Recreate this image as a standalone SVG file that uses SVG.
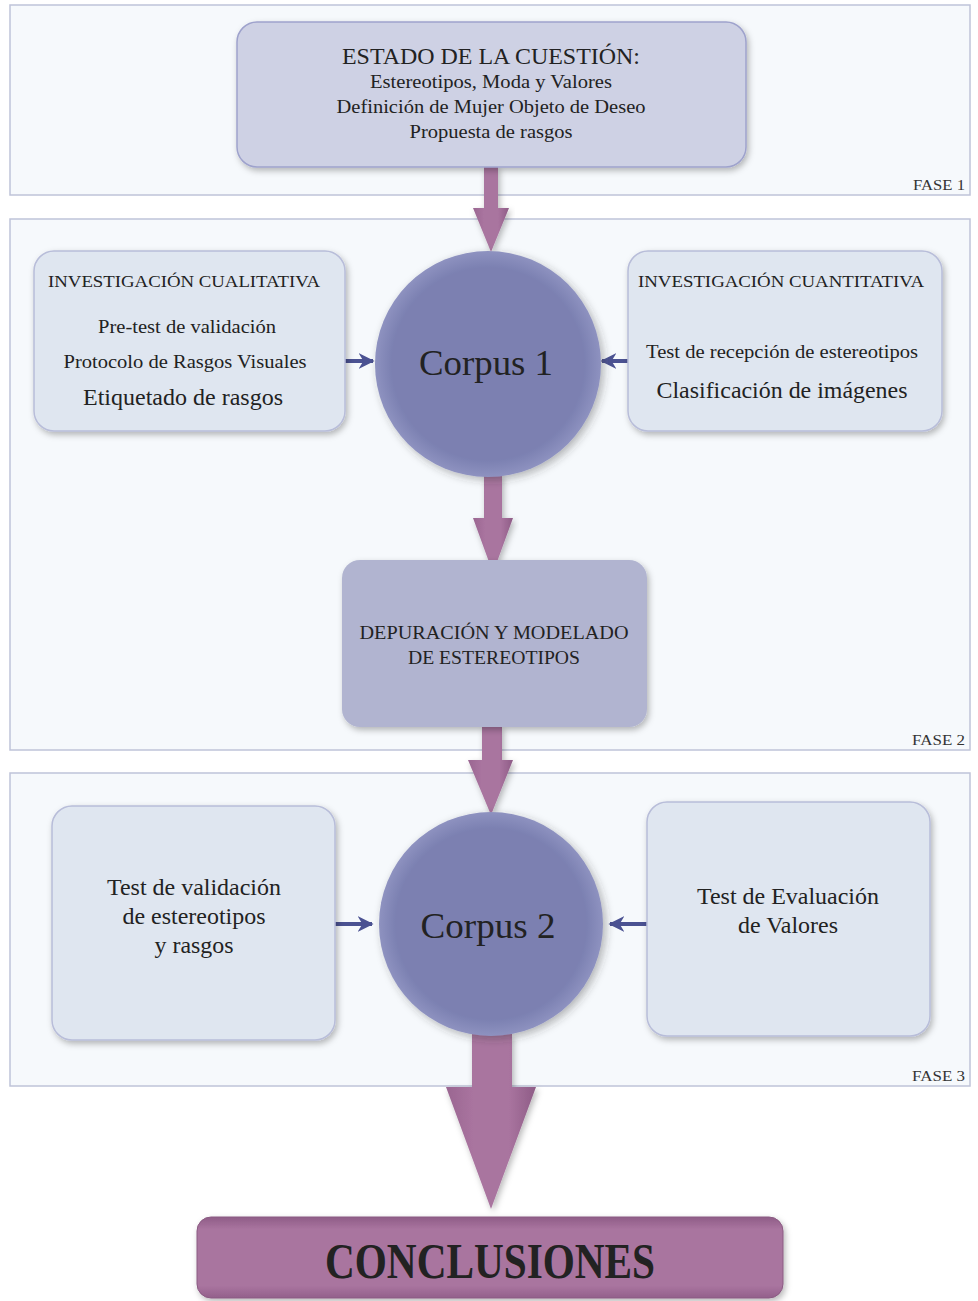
<svg xmlns="http://www.w3.org/2000/svg" width="978" height="1301" viewBox="0 0 978 1301">
<defs>
<filter id="sh" x="-10%" y="-10%" width="125%" height="130%">
<feDropShadow dx="2" dy="3" stdDeviation="3" flood-color="#000" flood-opacity="0.28"/>
</filter>
<filter id="shc" x="-15%" y="-15%" width="135%" height="135%">
<feDropShadow dx="3" dy="3" stdDeviation="4" flood-color="#333" flood-opacity="0.35"/>
</filter>
<linearGradient id="mauve" x1="0" y1="0" x2="1" y2="0">
<stop offset="0" stop-color="#9a6691"/>
<stop offset="0.3" stop-color="#a9749f"/>
<stop offset="0.7" stop-color="#a9749f"/>
<stop offset="1" stop-color="#8e5c86"/>
</linearGradient>
<linearGradient id="concl" x1="0" y1="0" x2="0" y2="1">
<stop offset="0" stop-color="#8f5d87"/>
<stop offset="0.15" stop-color="#a9749f"/>
<stop offset="0.85" stop-color="#a9749f"/>
<stop offset="1" stop-color="#93608b"/>
</linearGradient>
<radialGradient id="circ" cx="0.5" cy="0.5" r="0.5">
<stop offset="0.85" stop-color="#7b80b1"/>
<stop offset="1" stop-color="#8e92c0"/>
</radialGradient>
<marker id="ah" viewBox="0 0 10 10" refX="9" refY="5" markerWidth="4" markerHeight="4" orient="auto">
<path d="M0,0 L10,5 L0,10 L3,5 z" fill="#4b5292"/>
</marker>
</defs>
<style>
.panel{fill:#f6f9fc;stroke:#bfc3d9;stroke-width:1.5}
.lbox{fill:#dfe6f0;stroke:#b8bdd9;stroke-width:1.5}
.t{font-family:"Liberation Serif","Times New Roman",serif;fill:#222;text-anchor:middle}
.fase{font-family:"Liberation Serif","Times New Roman",serif;fill:#333;font-size:15px;text-anchor:end}
.small{stroke:#4b5292;stroke-width:4;fill:none;marker-end:url(#ah)}
.big{fill:url(#mauve);filter:url(#sh)}
</style>
<rect width="978" height="1301" fill="#ffffff"/>

<g id="fase1">
<rect class="panel" x="10" y="5" width="960" height="190"/>
<text class="fase" x="965" y="190" textLength="52" lengthAdjust="spacingAndGlyphs">FASE 1</text>
</g>
<g id="fase2">
<rect class="panel" x="10" y="219" width="960" height="531"/>
<text class="fase" x="965" y="745" textLength="53" lengthAdjust="spacingAndGlyphs">FASE 2</text>
</g>
<g id="fase3">
<rect class="panel" x="10" y="773" width="960" height="313"/>
<text class="fase" x="965" y="1081" textLength="53" lengthAdjust="spacingAndGlyphs">FASE 3</text>
</g>

<g id="connectors">
<path class="big" d="M484,166 L498,166 L498,208 L509,208 L491,252 L473,208 L484,208 z"/>
<path class="big" d="M484,474 L502,474 L502,518 L513,518 L493,573 L473,518 L484,518 z"/>
<path class="big" d="M482,726 L502,726 L502,760 L513,760 L491,815 L468,760 L482,760 z"/>
<path class="big" d="M472,1034 L512,1034 L512,1087 L536,1087 L491,1209 L446,1087 L472,1087 z"/>
<line class="small" x1="341" y1="361" x2="373" y2="361"/>
<line class="small" x1="634" y1="361" x2="602" y2="361"/>
<line class="small" x1="332" y1="924" x2="372" y2="924"/>
<line class="small" x1="652" y1="924" x2="610" y2="924"/>
</g>

<g id="estado">
<rect x="237" y="22" width="509" height="145" rx="20" fill="#ced1e4" stroke="#9ea2cc" stroke-width="1.5" filter="url(#sh)"/>
<text class="t" x="491" y="64" font-size="23.5" textLength="298" lengthAdjust="spacingAndGlyphs">ESTADO DE LA CUESTIÓN:</text>
<text class="t" x="491" y="88" font-size="19" textLength="242" lengthAdjust="spacingAndGlyphs">Estereotipos, Moda y Valores</text>
<text class="t" x="491" y="113" font-size="19" textLength="309" lengthAdjust="spacingAndGlyphs">Definición de Mujer Objeto de Deseo</text>
<text class="t" x="491" y="138" font-size="19" textLength="163" lengthAdjust="spacingAndGlyphs">Propuesta de rasgos</text>
</g>

<g id="cualitativa">
<rect class="lbox" x="34" y="251" width="311" height="180" rx="20" filter="url(#sh)"/>
<text class="t" x="184" y="287" font-size="17.5" textLength="272" lengthAdjust="spacingAndGlyphs">INVESTIGACIÓN CUALITATIVA</text>
<text class="t" x="187" y="333" font-size="19" textLength="178" lengthAdjust="spacingAndGlyphs">Pre-test de validación</text>
<text class="t" x="185" y="368" font-size="19" textLength="243" lengthAdjust="spacingAndGlyphs">Protocolo de Rasgos Visuales</text>
<text class="t" x="183" y="405" font-size="23" textLength="200" lengthAdjust="spacingAndGlyphs">Etiquetado de rasgos</text>
</g>

<g id="corpus1">
<circle cx="488" cy="364" r="113" fill="url(#circ)" filter="url(#shc)"/>
<text class="t" x="486" y="375" font-size="36" textLength="134" lengthAdjust="spacingAndGlyphs">Corpus 1</text>
</g>

<g id="cuantitativa">
<rect class="lbox" x="628" y="251" width="314" height="180" rx="20" filter="url(#sh)"/>
<text class="t" x="781" y="287" font-size="17.5" textLength="286" lengthAdjust="spacingAndGlyphs">INVESTIGACIÓN CUANTITATIVA</text>
<text class="t" x="782" y="358" font-size="19" textLength="272" lengthAdjust="spacingAndGlyphs">Test de recepción de estereotipos</text>
<text class="t" x="782" y="398" font-size="23" textLength="251" lengthAdjust="spacingAndGlyphs">Clasificación de imágenes</text>
</g>

<g id="depuracion">
<rect x="342" y="560" width="305" height="167" rx="18" fill="#b1b4d0" filter="url(#sh)"/>
<text class="t" x="494" y="639" font-size="18" textLength="269" lengthAdjust="spacingAndGlyphs">DEPURACIÓN Y MODELADO</text>
<text class="t" x="494" y="664" font-size="18" textLength="172" lengthAdjust="spacingAndGlyphs">DE ESTEREOTIPOS</text>
</g>

<g id="validacion">
<rect class="lbox" x="52" y="806" width="283" height="234" rx="20" filter="url(#sh)"/>
<text class="t" x="194" y="895" font-size="23" textLength="174" lengthAdjust="spacingAndGlyphs">Test de validación</text>
<text class="t" x="194" y="924" font-size="23" textLength="143" lengthAdjust="spacingAndGlyphs">de estereotipos</text>
<text class="t" x="194" y="953" font-size="23" textLength="79" lengthAdjust="spacingAndGlyphs">y rasgos</text>
</g>

<g id="corpus2">
<circle cx="491" cy="924" r="112" fill="url(#circ)" filter="url(#shc)"/>
<text class="t" x="488" y="938" font-size="36" textLength="135" lengthAdjust="spacingAndGlyphs">Corpus 2</text>
</g>

<g id="evaluacion">
<rect class="lbox" x="647" y="802" width="283" height="234" rx="20" filter="url(#sh)"/>
<text class="t" x="788" y="904" font-size="23" textLength="182" lengthAdjust="spacingAndGlyphs">Test de Evaluación</text>
<text class="t" x="788" y="933" font-size="23" textLength="100" lengthAdjust="spacingAndGlyphs">de Valores</text>
</g>

<g id="conclusiones">
<rect x="197" y="1217" width="586" height="81" rx="14" fill="url(#concl)" stroke="#8a5a82" stroke-width="1" filter="url(#sh)"/>
<text class="t" x="490" y="1278" font-size="50" font-weight="bold" fill="#111" textLength="330" lengthAdjust="spacingAndGlyphs">CONCLUSIONES</text>
</g>
</svg>
